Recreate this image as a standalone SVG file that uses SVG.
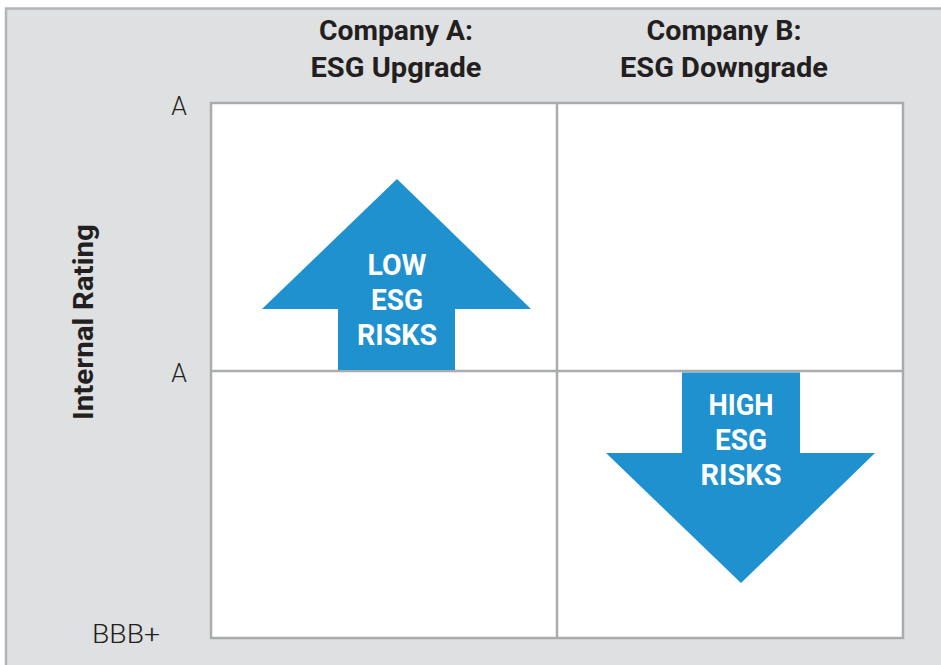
<svg xmlns="http://www.w3.org/2000/svg" width="941" height="665" viewBox="0 0 941 665">
<style>
.hdr{font-family:Roboto,"Liberation Sans",sans-serif;font-weight:bold;font-size:27px;fill:#231f20;text-anchor:middle}
.lbl{font-family:Roboto,"Liberation Sans",sans-serif;font-weight:300;font-size:25px;fill:#231f20;text-anchor:middle}
.arr{fill:#1f91cf}
.atx{font-family:Roboto,"Liberation Sans",sans-serif;font-weight:bold;font-size:30px;fill:#ffffff;text-anchor:middle}
.grid{stroke:#a9abad;stroke-width:2.5}
</style>
<rect x="0" y="0" width="941" height="665" fill="#ffffff"/>
<rect x="6" y="8.5" width="945" height="670" fill="#dfe0e2" stroke="#b3b4b6" stroke-width="2.5"/>
<g id="grid">
<rect x="211" y="103" width="692" height="535" fill="#ffffff" class="grid"/>
<line x1="557" y1="103" x2="557" y2="638" class="grid"/>
<line x1="211" y1="371" x2="903" y2="371" class="grid"/>
</g>
<g id="header-a">
<text class="hdr" x="396" y="40" textLength="154" lengthAdjust="spacingAndGlyphs">Company A:</text>
<text class="hdr" x="396" y="77" textLength="171" lengthAdjust="spacingAndGlyphs">ESG Upgrade</text>
</g>
<g id="header-b">
<text class="hdr" x="724" y="40" textLength="155" lengthAdjust="spacingAndGlyphs">Company B:</text>
<text class="hdr" x="724" y="77" textLength="208" lengthAdjust="spacingAndGlyphs">ESG Downgrade</text>
</g>
<g id="axis">
<text class="lbl" x="179" y="115">A</text>
<text class="lbl" x="179" y="382">A</text>
<text class="lbl" x="126" y="643" textLength="68" lengthAdjust="spacingAndGlyphs">BBB+</text>
<text class="hdr" transform="translate(93 322) rotate(-90)" textLength="196" lengthAdjust="spacingAndGlyphs">Internal Rating</text>
</g>
<g id="low-risk">
<polygon class="arr" points="397,179 531,309 455,309 455,370 338,370 338,309 262,309"/>
<text class="atx" x="397" y="275" textLength="59" lengthAdjust="spacingAndGlyphs">LOW</text>
<text class="atx" x="397" y="310" textLength="52" lengthAdjust="spacingAndGlyphs">ESG</text>
<text class="atx" x="397" y="345" textLength="80" lengthAdjust="spacingAndGlyphs">RISKS</text>
</g>
<g id="high-risk">
<polygon class="arr" points="682,372.5 800,372.5 800,453 875,453 741,583 606,453 682,453"/>
<text class="atx" x="741" y="415" textLength="65" lengthAdjust="spacingAndGlyphs">HIGH</text>
<text class="atx" x="741" y="450" textLength="52" lengthAdjust="spacingAndGlyphs">ESG</text>
<text class="atx" x="741" y="485" textLength="81" lengthAdjust="spacingAndGlyphs">RISKS</text>
</g>
</svg>
